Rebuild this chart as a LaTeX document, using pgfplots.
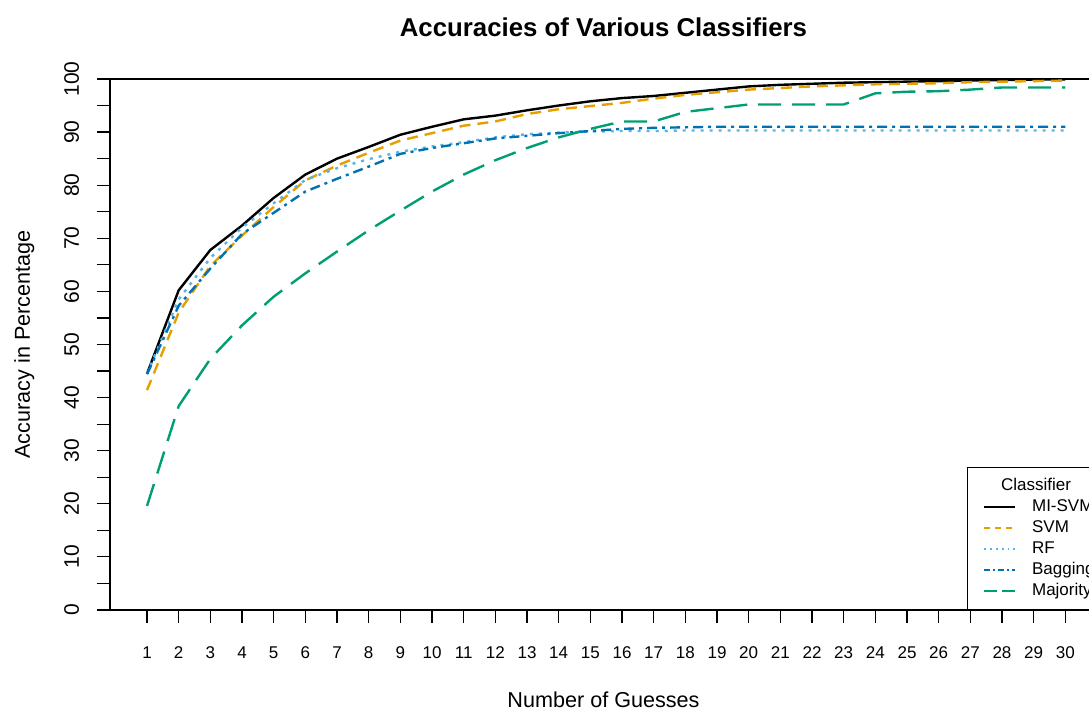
\documentclass[border=0pt]{standalone}
\usepackage{fontspec}
\setmainfont{Liberation Sans}
\usepackage{pgfplots}
\pgfplotsset{compat=1.18}
\usetikzlibrary{calc}

\definecolor{cSVM}{HTML}{E69F00}
\definecolor{cRF}{HTML}{56B4E9}
\definecolor{cBag}{HTML}{0072B2}
\definecolor{cMaj}{HTML}{009E73}

\begin{document}
\begin{tikzpicture}
\begin{axis}[
  scale only axis, width=493.5pt, height=265.5pt,
  xmin=-0.169, xmax=31, ymin=0, ymax=100,
  xtick={1,...,30}, ytick={0,10,...,100}, minor y tick num=1,
  tick align=outside, xtick pos=left, ytick pos=left,
  major tick length=6.5pt, minor tick length=6.5pt,
  every tick/.style={black, line width=0.6pt},
  axis line style={line width=0.7pt},
  /pgf/number format/assume math mode=true,
  xticklabel style={font=\fontsize{8.5}{10}\selectfont, anchor=base, yshift=-18pt},
  yticklabel style={font=\fontsize{10.5}{12}\selectfont, xshift=-9pt, rotate=90, anchor=base},
  title={Accuracies of Various Classifiers},
  title style={at={(0.5,1)}, anchor=base, yshift=15pt, font=\bfseries\fontsize{12.9}{15}\selectfont},
  xlabel={Number of Guesses},
  ylabel={Accuracy in Percentage},
  every axis x label/.style={at={(axis description cs:0.5,0)}, anchor=base, yshift=-49pt, font=\fontsize{10.8}{13}\selectfont},
  every axis y label/.style={at={(axis description cs:0,0.5)}, xshift=-40pt, rotate=90, anchor=base, font=\fontsize{10.8}{13}\selectfont},
  legend cell align=left,
  legend image code/.code={\draw[#1] (0pt,0pt) -- (15.5pt,0pt);},
  legend style={at={(0.8683,0)}, anchor=south west, draw=black, line width=0.5pt, fill=white,
    font=\fontsize{8.5}{10}\selectfont, inner xsep=8pt, inner ysep=5.4pt,
    row sep=2.7pt, column sep=8pt,
    nodes={inner sep=0pt, text height=6.2pt, text depth=1.6pt},
    row 1/.style={nodes={text depth=5.1pt}}},
]
\coordinate (bl) at (rel axis cs:0,0);

\addlegendimage{empty legend}
\addlegendentry{\hspace*{-15.5pt}Classifier}

% MI-SVM
\addplot[draw=black, line width=1.2pt, legend image post style={line width=0.8pt}] coordinates {
(1,44.5) (2,60.2) (3,67.8) (4,72.4) (5,77.6) (6,82.0) (7,85.0) (8,87.2) (9,89.5) (10,91.0)
(11,92.4) (12,93.1) (13,94.1) (14,95.0) (15,95.8) (16,96.4) (17,96.8) (18,97.4) (19,98.0) (20,98.6)
(21,98.9) (22,99.1) (23,99.3) (24,99.4) (25,99.5) (26,99.6) (27,99.7) (28,99.8) (29,99.9) (30,99.9)};
\addlegendentry{MI-SVM}

% SVM
\addplot[draw=cSVM, line width=1.2pt, dash pattern=on 5.5pt off 3.5pt,
  legend image post style={draw=cSVM, line width=0.8pt, dash pattern=on 3pt off 2.5pt}] coordinates {
(1,41.4) (2,56.0) (3,64.8) (4,70.5) (5,75.9) (6,80.9) (7,83.7) (8,86.1) (9,88.4) (10,89.8)
(11,91.2) (12,92.0) (13,93.4) (14,94.3) (15,94.9) (16,95.5) (17,96.3) (18,97.0) (19,97.5) (20,98.0)
(21,98.3) (22,98.6) (23,98.8) (24,99.0) (25,99.1) (26,99.2) (27,99.4) (28,99.5) (29,99.6) (30,99.7)};
\addlegendentry{SVM}

% RF
\addplot[draw=cRF, line width=1.2pt, dash pattern=on 1.5pt off 3pt,
  legend image post style={draw=cRF, line width=0.8pt, dash pattern=on 0.9pt off 2pt}] coordinates {
(1,44.5) (2,58.5) (3,66.3) (4,72.0) (5,76.6) (6,81.0) (7,83.2) (8,84.9) (9,86.3) (10,87.3)
(11,88.1) (12,89.0) (13,89.6) (14,89.9) (15,90.1) (16,90.2) (17,90.2) (18,90.3) (19,90.3) (20,90.3)
(21,90.3) (22,90.3) (23,90.3) (24,90.3) (25,90.3) (26,90.3) (27,90.3) (28,90.3) (29,90.3) (30,90.3)};
\addlegendentry{RF}

% Bagging
\addplot[draw=cBag, line width=1.2pt, dash pattern=on 5pt off 2.5pt on 1.5pt off 2.5pt,
  legend image post style={draw=cBag, line width=0.8pt, dash pattern=on 3pt off 1.5pt on 0.9pt off 1.5pt}] coordinates {
(1,44.4) (2,57.3) (3,64.3) (4,70.8) (5,74.8) (6,78.8) (7,81.2) (8,83.5) (9,85.9) (10,87.0)
(11,87.9) (12,88.8) (13,89.3) (14,89.8) (15,90.2) (16,90.6) (17,90.8) (18,90.9) (19,91.0) (20,91.0)
(21,91.0) (22,91.0) (23,91.0) (24,91.0) (25,91.0) (26,91.0) (27,91.0) (28,91.0) (29,91.0) (30,91.0)};
\addlegendentry{Bagging}

% Majority
\addplot[draw=cMaj, line width=1.2pt, dash pattern=on 11.5pt off 5.5pt,
  legend image post style={draw=cMaj, line width=0.8pt, dash pattern=on 6.5pt off 2.5pt}] coordinates {
(1,19.6) (2,38.4) (3,47.3) (4,53.6) (5,59.0) (6,63.4) (7,67.5) (8,71.5) (9,75.2) (10,78.8)
(11,82.0) (12,84.7) (13,87.0) (14,89.0) (15,90.6) (16,92.0) (17,92.0) (18,93.8) (19,94.5) (20,95.2)
(21,95.2) (22,95.2) (23,95.2) (24,97.3) (25,97.6) (26,97.7) (27,98.0) (28,98.4) (29,98.4) (30,98.4)};
\addlegendentry{Majority}
\end{axis}
\pgfresetboundingbox
\useasboundingbox ($(bl)+(-55pt,-50pt)$) rectangle ($(bl)+(489.5pt,305pt)$);
\end{tikzpicture}
\end{document}
